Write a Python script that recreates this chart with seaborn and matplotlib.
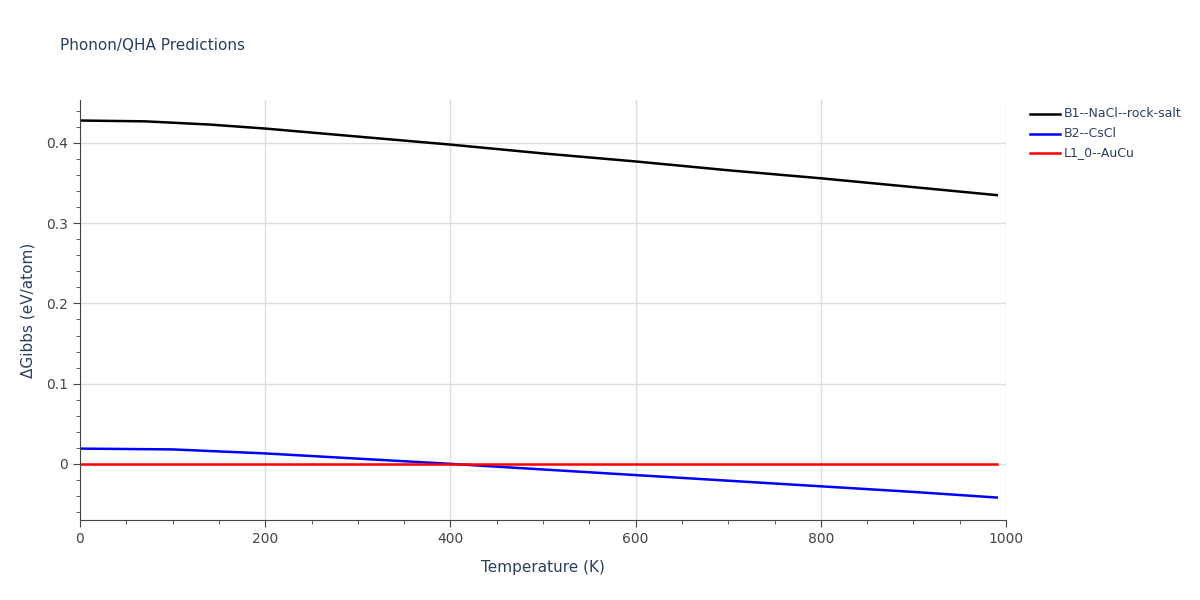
import matplotlib
matplotlib.use("Agg")
import matplotlib.pyplot as plt
import seaborn as sns
import pandas as pd
from matplotlib.ticker import MultipleLocator

b1_T = [0, 70, 140, 200, 300, 400, 500, 600, 700, 800, 900, 990]
b1_G = [0.428, 0.427, 0.423, 0.418, 0.408, 0.398, 0.387, 0.377, 0.366, 0.356, 0.345, 0.335]
b2_T = [0, 100, 200, 300, 400, 500, 600, 700, 800, 900, 990]
b2_G = [0.019, 0.018, 0.013, 0.0065, 0.0, -0.007, -0.014, -0.021, -0.028, -0.035, -0.042]
l10_T = [0, 990]
l10_G = [0.0, 0.0]
names = ["B1--NaCl--rock-salt", "B2--CsCl", "L1_0--AuCu"]
colors = ["black", "blue", "red"]

df = pd.concat([
    pd.DataFrame({"T": b1_T, "G": b1_G, "s": names[0]}),
    pd.DataFrame({"T": b2_T, "G": b2_G, "s": names[1]}),
    pd.DataFrame({"T": l10_T, "G": l10_G, "s": names[2]}),
])

fig = plt.figure(figsize=(12, 6), dpi=100)
ax = fig.add_axes([80/1200, 1-520/600, 926/1200, 420/600])
sns.lineplot(data=df, x="T", y="G", hue="s", palette=colors, ax=ax, linewidth=1.8, legend=False)
ax.set_xlim(0, 1000)
ax.set_ylim(-0.07, 0.4536)
ax.xaxis.set_major_locator(MultipleLocator(200))
ax.xaxis.set_minor_locator(MultipleLocator(50))
ax.yaxis.set_major_locator(MultipleLocator(0.1))
ax.yaxis.set_minor_locator(MultipleLocator(0.02))
ax.grid(True, which="major", color="#dddddd", linewidth=1)
ax.set_axisbelow(True)
for sp in ["top", "right"]:
    ax.spines[sp].set_visible(False)
for sp in ["left", "bottom"]:
    ax.spines[sp].set_color("#444444")
tc = "#444444"
ax.tick_params(which="major", length=5, color=tc, labelcolor=tc, labelsize=10)
ax.tick_params(which="minor", length=3, color=tc)
ax.set_yticks([-0.0, 0.1, 0.2, 0.3, 0.4])
ax.set_yticklabels(["0", "0.1", "0.2", "0.3", "0.4"])
ax.yaxis.set_minor_locator(MultipleLocator(0.02))
ax.set_xlabel("Temperature (K)", color="#2a3f5f", fontsize=11, labelpad=10)
ax.set_ylabel("ΔGibbs (eV/atom)", color="#2a3f5f", fontsize=11, labelpad=8)
fig.text(60/1200, 1-45/600, "Phonon/QHA Predictions", color="#2a3f5f", fontsize=11, va="center")
for i, (n, c) in enumerate(zip(names, colors)):
    y = 1 - (114 + 19.5*i)/600
    fig.add_artist(plt.Line2D([1030/1200, 1060/1200], [y, y], color=c, linewidth=1.8))
    fig.text(1064/1200, y, n, color="#2a3f5f", fontsize=9, va="center")
fig.savefig("out.png", dpi=100)
